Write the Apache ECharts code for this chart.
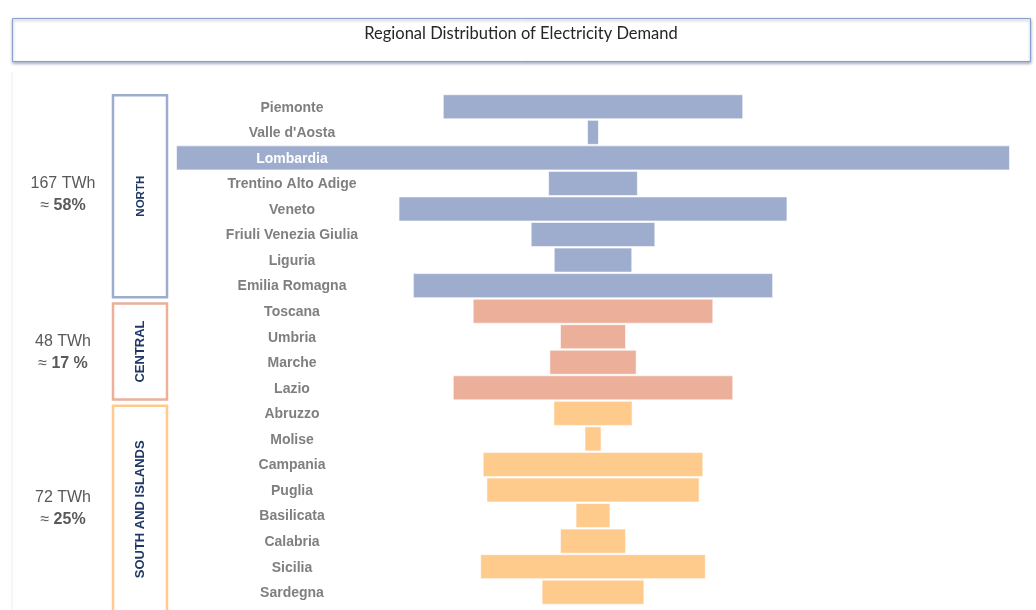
<!DOCTYPE html>
<html>
<head>
<meta charset="utf-8">
<script src="https://cdn.jsdelivr.net/npm/echarts@6/dist/echarts.min.js"></script>
<style>
html,body{margin:0;padding:0;background:#fff;}
#chart{width:1036px;height:610px;}
</style>
</head>
<body>
<div id="chart"></div>
<script>
const titleText = 'Regional Distribution of Electricity Demand';
const regions = ['Piemonte', "Valle d'Aosta", 'Lombardia', 'Trentino Alto Adige', 'Veneto', 'Friuli Venezia Giulia', 'Liguria', 'Emilia Romagna',
  'Toscana', 'Umbria', 'Marche', 'Lazio',
  'Abruzzo', 'Molise', 'Campania', 'Puglia', 'Basilicata', 'Calabria', 'Sicilia', 'Sardegna'];
const demandTWh = [24.1, 0.96, 66.9, 7.2, 31.2, 10.0, 6.3, 28.9,
  19.3, 5.3, 7.0, 22.5,
  6.35, 1.37, 17.7, 17.1, 2.8, 5.3, 18.1, 8.25];
const areaNames = ['NORTH', 'CENTRAL', 'SOUTH AND ISLANDS'];
const areaRegionCounts = [8, 4, 8];
const areaTotals = ['167 TWh', '48 TWh', '72 TWh'];
const areaShares = ['58%', '17 %', '25%'];
const areaColors = ['#9eadce', '#ecaf9a', '#fecb8d'];
const areaNameSizes = [11.5, 13, 13];

const areaIndex = [];
areaRegionCounts.forEach((n, a) => { for (let k = 0; k < n; k++) areaIndex.push(a); });
const maxVal = Math.max(...demandTWh);

const chart = echarts.init(document.getElementById('chart'));
const option = {
  animation: false,
  grid: { left: 176, right: 26, top: 94, bottom: 5, containLabel: false },
  xAxis: { type: 'value', min: 0, max: maxVal, show: false },
  yAxis: {
    type: 'category', inverse: true, data: regions, z: 10,
    offset: -116,
    axisLine: { show: false }, axisTick: { show: false }, splitLine: { show: false },
    axisLabel: {
      align: 'center', margin: 0,
      formatter: v => v === 'Lombardia' ? '{w|' + v + '}' : '{g|' + v + '}',
      rich: {
        g: { color: '#7f7f7f', fontFamily: 'Liberation Sans', fontWeight: 'bold', fontSize: 14, padding: [2, 0, 0, 0] },
        w: { color: '#ffffff', fontFamily: 'Liberation Sans', fontWeight: 'bold', fontSize: 14, padding: [2, 0, 0, 0] }
      }
    }
  },
  series: [
    {
      type: 'bar', stack: 'c', silent: true, barCategoryGap: '2%',
      itemStyle: { color: 'rgba(0,0,0,0)' },
      data: demandTWh.map(v => (maxVal - v) / 2)
    },
    {
      type: 'bar', stack: 'c', barCategoryGap: '2%',
      data: demandTWh.map((v, i) => ({
        value: v,
        itemStyle: { color: areaColors[areaIndex[i]], borderColor: 'rgba(255,255,255,0.6)', borderWidth: 1 }
      }))
    }
  ]
};
chart.setOption(option);

// annotations positioned from the category axis scale
const c0 = chart.convertToPixel({ yAxisIndex: 0 }, 0);
const c1 = chart.convertToPixel({ yAxisIndex: 0 }, 1);
const band = c1 - c0;
const graphics = [
  { type: 'line', shape: { x1: 12, y1: 72, x2: 12, y2: 610 }, style: { stroke: '#ececec', lineWidth: 1 }, silent: true },
  { type: 'rect', shape: { x: 12.5, y: 18.5, width: 1018, height: 43 },
    style: { fill: '#fff', stroke: '#8a9fcc', lineWidth: 1, shadowBlur: 3, shadowOffsetY: 1.5, shadowColor: 'rgba(60,80,130,0.5)' } },
  { type: 'text', x: 521, y: 33.5, style: { text: titleText, align: 'center', verticalAlign: 'middle', fontFamily: 'Lato', fontSize: 16.5, fill: '#262626' } }
];
const totalOffsets = [-3, 2, 5];
let start = 0;
areaRegionCounts.forEach((n, a) => {
  const top = chart.convertToPixel({ yAxisIndex: 0 }, start) - band / 2;
  let bottom = chart.convertToPixel({ yAxisIndex: 0 }, start + n - 1) + band / 2;
  const boxTop = top + (a === 0 ? 0 : 4);
  const boxBottom = a === areaRegionCounts.length - 1 ? bottom + 12 : bottom;
  const mid = (top + Math.min(bottom, 604)) / 2;
  graphics.push({ type: 'rect', shape: { x: 113, y: boxTop + 1.2, width: 54, height: boxBottom - boxTop - 2.4 },
    style: { fill: 'none', stroke: areaColors[a], lineWidth: 2.5 } });
  graphics.push({ type: 'text', x: 140.5, y: (boxTop + Math.min(boxBottom, 610)) / 2 + (a === 2 ? 2 : 0), rotation: Math.PI / 2,
    style: { text: areaNames[a], align: 'center', verticalAlign: 'middle', fontFamily: 'Liberation Sans', fontWeight: 'bold', fontSize: areaNameSizes[a], fill: '#1f3864' } });
  graphics.push({ type: 'text', x: 63, y: mid - 10 + totalOffsets[a],
    style: { text: areaTotals[a], align: 'center', verticalAlign: 'middle', fontFamily: 'Liberation Sans', fontSize: 16, fill: '#595959' } });
  graphics.push({ type: 'text', x: 63, y: mid + 12.5 + totalOffsets[a],
    style: { text: '{a|≈ }{b|' + areaShares[a] + '}', align: 'center', verticalAlign: 'middle', fill: '#595959',
      rich: { a: { fontFamily: 'Liberation Sans', fontSize: 16, fill: '#595959' },
              b: { fontFamily: 'Liberation Sans', fontSize: 16, fontWeight: 'bold', fill: '#595959' } } } });
  start += n;
});
chart.setOption({ graphic: graphics });
</script>
</body>
</html>
